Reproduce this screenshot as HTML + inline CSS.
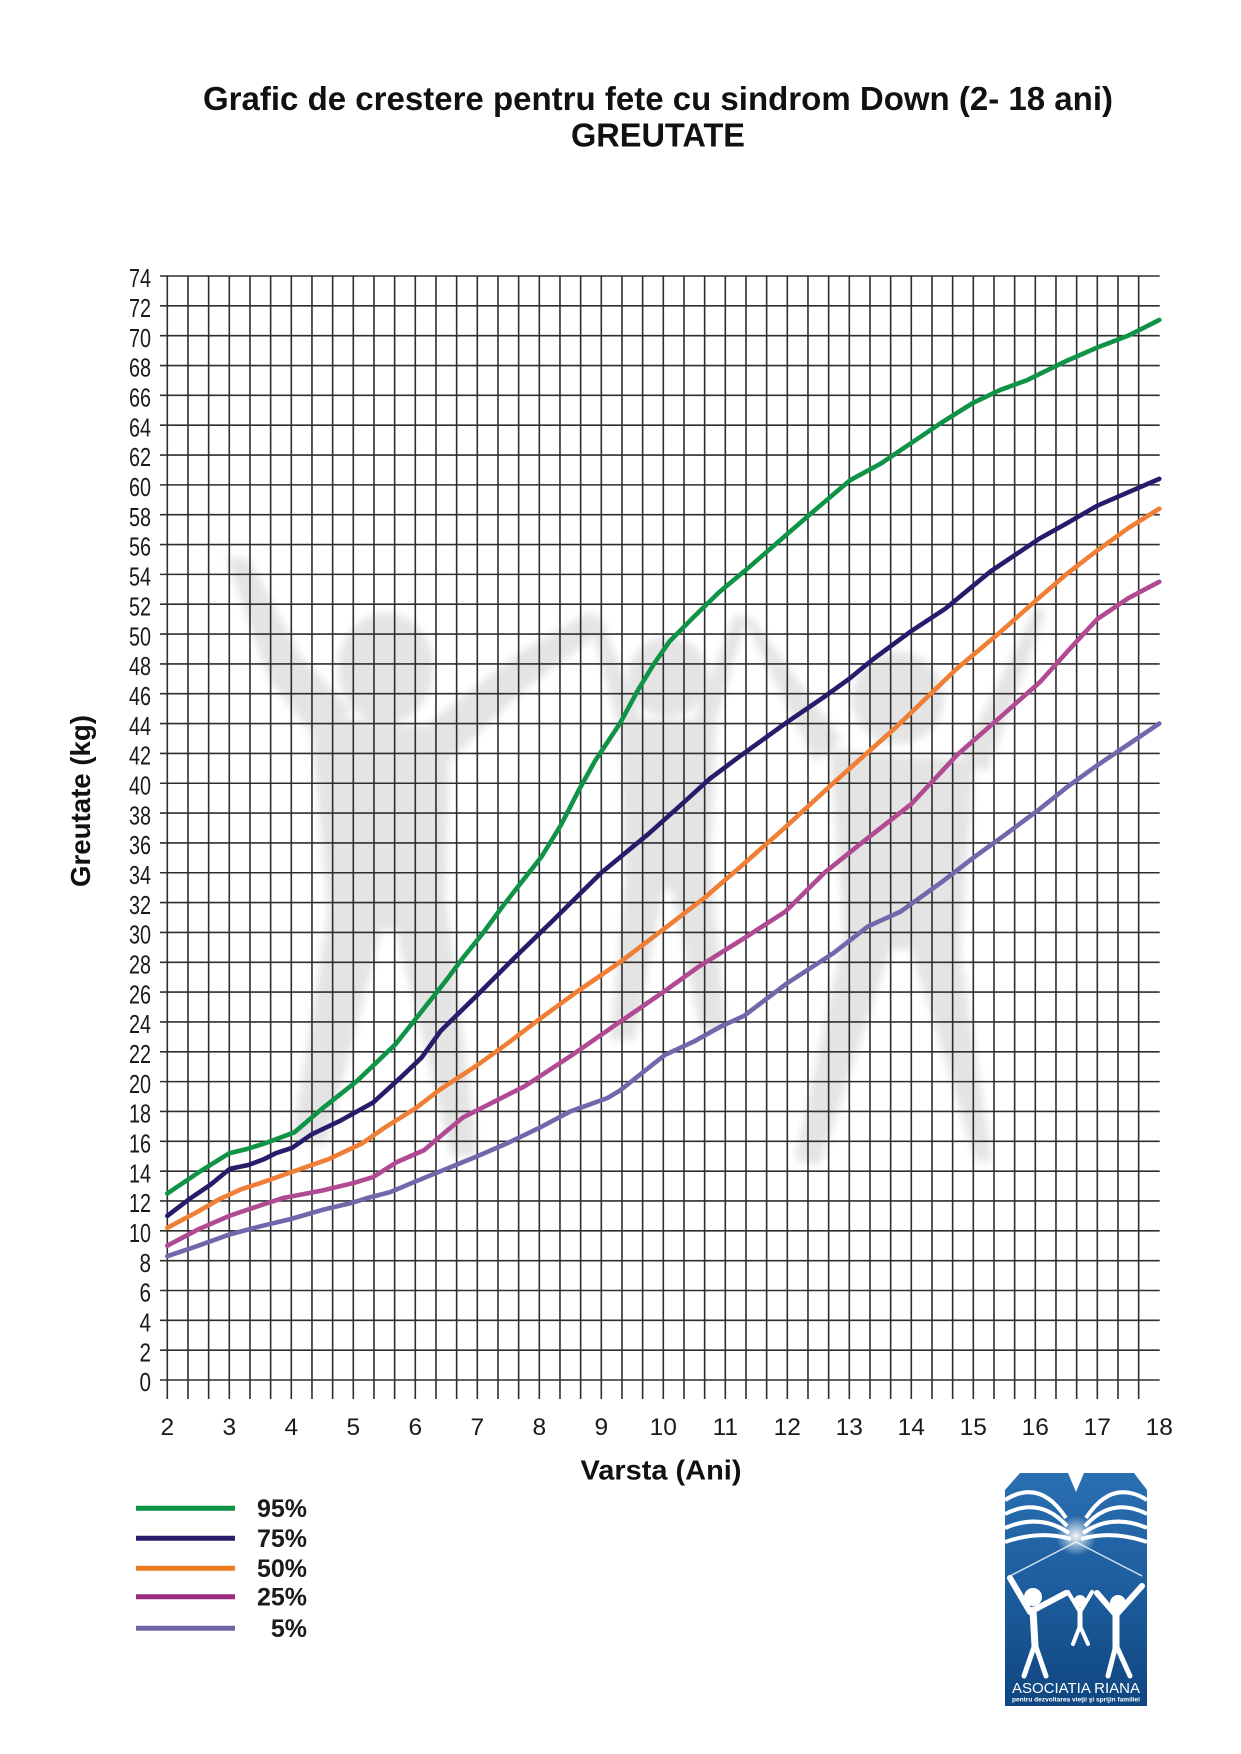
<!DOCTYPE html>
<html><head><meta charset="utf-8">
<style>
html,body{margin:0;padding:0;background:#fff;}
svg{display:block;}
</style></head>
<body>
<svg width="1241" height="1754" viewBox="0 0 1241 1754" xmlns="http://www.w3.org/2000/svg" font-family="'Liberation Sans', Arial, sans-serif">
<defs>
<filter id="bl" x="-20%" y="-20%" width="140%" height="140%"><feGaussianBlur stdDeviation="4"/></filter>
<linearGradient id="lg" x1="0" y1="0" x2="0" y2="1">
<stop offset="0" stop-color="#2a6fb2"/>
<stop offset="0.5" stop-color="#1d5d9d"/>
<stop offset="1" stop-color="#0f4680"/>
</linearGradient>
<radialGradient id="glow" cx="0.5" cy="0.5" r="0.5">
<stop offset="0" stop-color="#ffffff" stop-opacity="0.95"/>
<stop offset="1" stop-color="#ffffff" stop-opacity="0"/>
</radialGradient>
</defs>
<rect width="1241" height="1754" fill="#fff"/>

<!-- Title -->
<text x="658" y="110" font-size="33" font-weight="bold" text-anchor="middle" textLength="910" lengthAdjust="spacingAndGlyphs" fill="#111">Grafic de crestere pentru fete cu sindrom Down (2- 18 ani)</text>
<text x="658" y="146.5" font-size="33" font-weight="bold" text-anchor="middle" textLength="174" lengthAdjust="spacingAndGlyphs" fill="#111">GREUTATE</text>

<!-- Watermark -->
<g fill="#e4e4e4" filter="url(#bl)">
<ellipse cx="386" cy="668" rx="48" ry="55"/>
<polygon points="226,556 250,560 300,655 352,712 312,735 268,678"/>
<polygon points="310,715 450,728 445,930 330,930"/>
<polygon points="430,722 520,652 590,612 598,634 522,692 448,762"/>
<polygon points="330,900 388,905 326,1145 292,1140"/>
<polygon points="390,905 446,900 478,1155 452,1158"/>

<circle cx="668" cy="677" r="40"/>
<polygon points="588,614 600,616 642,720 620,732"/>
<polygon points="735,614 746,620 714,727 694,720"/>
<polygon points="620,720 716,720 710,890 625,890"/>
<polygon points="625,880 665,880 635,1040 610,1040"/>
<polygon points="670,880 712,880 726,1030 700,1030"/>

<circle cx="898" cy="698" r="46"/>
<polygon points="742,615 752,618 842,740 815,762"/>
<polygon points="1036,606 1046,612 987,772 960,760"/>
<polygon points="830,750 975,760 960,950 845,950"/>
<polygon points="845,930 897,930 820,1165 795,1160"/>
<polygon points="905,930 957,930 992,1160 976,1162"/>
</g>

<!-- Grid -->
<g stroke="#2e2e2e" stroke-width="1.6" fill="none">
<path d="M167.3 276v1123m20.667-1123v1123m20.667-1123v1123m20.667-1123v1123m20.667-1123v1123m20.667-1123v1123m20.667-1123v1123m20.667-1123v1123m20.667-1123v1123m20.667-1123v1123m20.667-1123v1123m20.667-1123v1123m20.667-1123v1123m20.667-1123v1123m20.667-1123v1123m20.667-1123v1123m20.667-1123v1123m20.667-1123v1123m20.667-1123v1123m20.667-1123v1123m20.667-1123v1123m20.667-1123v1123m20.667-1123v1123m20.667-1123v1123m20.667-1123v1123m20.667-1123v1123m20.667-1123v1123m20.667-1123v1123m20.667-1123v1123m20.667-1123v1123m20.667-1123v1123m20.667-1123v1123m20.667-1123v1123m20.667-1123v1123m20.667-1123v1123m20.667-1123v1123m20.667-1123v1123m20.667-1123v1123m20.667-1123v1123m20.667-1123v1123m20.667-1123v1123m20.667-1123v1123m20.667-1123v1123m20.667-1123v1123m20.667-1123v1123m20.667-1123v1123m20.667-1123v1123m20.667-1123v1123"/>
<path d="M160 276h999.7m-999.7 29.838h999.7m-999.7 29.838h999.7m-999.7 29.838h999.7m-999.7 29.838h999.7m-999.7 29.838h999.7m-999.7 29.838h999.7m-999.7 29.838h999.7m-999.7 29.838h999.7m-999.7 29.838h999.7m-999.7 29.838h999.7m-999.7 29.838h999.7m-999.7 29.838h999.7m-999.7 29.838h999.7m-999.7 29.838h999.7m-999.7 29.838h999.7m-999.7 29.838h999.7m-999.7 29.838h999.7m-999.7 29.838h999.7m-999.7 29.838h999.7m-999.7 29.838h999.7m-999.7 29.838h999.7m-999.7 29.838h999.7m-999.7 29.838h999.7m-999.7 29.838h999.7m-999.7 29.838h999.7m-999.7 29.838h999.7m-999.7 29.838h999.7m-999.7 29.838h999.7m-999.7 29.838h999.7m-999.7 29.838h999.7m-999.7 29.838h999.7m-999.7 29.838h999.7m-999.7 29.838h999.7m-999.7 29.838h999.7m-999.7 29.838h999.7m-999.7 29.838h999.7m-999.7 29.838h999.7"/>
</g>

<!-- Y labels -->
<g font-size="26" fill="#1a1a1a" text-anchor="end">
<text x="151" y="287.2" textLength="22" lengthAdjust="spacingAndGlyphs">74</text>
<text x="151" y="317.0" textLength="22" lengthAdjust="spacingAndGlyphs">72</text>
<text x="151" y="346.9" textLength="22" lengthAdjust="spacingAndGlyphs">70</text>
<text x="151" y="376.7" textLength="22" lengthAdjust="spacingAndGlyphs">68</text>
<text x="151" y="406.6" textLength="22" lengthAdjust="spacingAndGlyphs">66</text>
<text x="151" y="436.4" textLength="22" lengthAdjust="spacingAndGlyphs">64</text>
<text x="151" y="466.2" textLength="22" lengthAdjust="spacingAndGlyphs">62</text>
<text x="151" y="496.1" textLength="22" lengthAdjust="spacingAndGlyphs">60</text>
<text x="151" y="525.9" textLength="22" lengthAdjust="spacingAndGlyphs">58</text>
<text x="151" y="555.7" textLength="22" lengthAdjust="spacingAndGlyphs">56</text>
<text x="151" y="585.6" textLength="22" lengthAdjust="spacingAndGlyphs">54</text>
<text x="151" y="615.4" textLength="22" lengthAdjust="spacingAndGlyphs">52</text>
<text x="151" y="645.3" textLength="22" lengthAdjust="spacingAndGlyphs">50</text>
<text x="151" y="675.1" textLength="22" lengthAdjust="spacingAndGlyphs">48</text>
<text x="151" y="704.9" textLength="22" lengthAdjust="spacingAndGlyphs">46</text>
<text x="151" y="734.8" textLength="22" lengthAdjust="spacingAndGlyphs">44</text>
<text x="151" y="764.6" textLength="22" lengthAdjust="spacingAndGlyphs">42</text>
<text x="151" y="794.4" textLength="22" lengthAdjust="spacingAndGlyphs">40</text>
<text x="151" y="824.3" textLength="22" lengthAdjust="spacingAndGlyphs">38</text>
<text x="151" y="854.1" textLength="22" lengthAdjust="spacingAndGlyphs">36</text>
<text x="151" y="884.0" textLength="22" lengthAdjust="spacingAndGlyphs">34</text>
<text x="151" y="913.8" textLength="22" lengthAdjust="spacingAndGlyphs">32</text>
<text x="151" y="943.6" textLength="22" lengthAdjust="spacingAndGlyphs">30</text>
<text x="151" y="973.5" textLength="22" lengthAdjust="spacingAndGlyphs">28</text>
<text x="151" y="1003.3" textLength="22" lengthAdjust="spacingAndGlyphs">26</text>
<text x="151" y="1033.1" textLength="22" lengthAdjust="spacingAndGlyphs">24</text>
<text x="151" y="1063.0" textLength="22" lengthAdjust="spacingAndGlyphs">22</text>
<text x="151" y="1092.8" textLength="22" lengthAdjust="spacingAndGlyphs">20</text>
<text x="151" y="1122.7" textLength="22" lengthAdjust="spacingAndGlyphs">18</text>
<text x="151" y="1152.5" textLength="22" lengthAdjust="spacingAndGlyphs">16</text>
<text x="151" y="1182.3" textLength="22" lengthAdjust="spacingAndGlyphs">14</text>
<text x="151" y="1212.2" textLength="22" lengthAdjust="spacingAndGlyphs">12</text>
<text x="151" y="1242.0" textLength="22" lengthAdjust="spacingAndGlyphs">10</text>
<text x="151" y="1271.9" textLength="11.5" lengthAdjust="spacingAndGlyphs">8</text>
<text x="151" y="1301.7" textLength="11.5" lengthAdjust="spacingAndGlyphs">6</text>
<text x="151" y="1331.5" textLength="11.5" lengthAdjust="spacingAndGlyphs">4</text>
<text x="151" y="1361.4" textLength="11.5" lengthAdjust="spacingAndGlyphs">2</text>
<text x="151" y="1391.2" textLength="11.5" lengthAdjust="spacingAndGlyphs">0</text>
</g>

<!-- X labels -->
<g font-size="24.5" fill="#1a1a1a" text-anchor="middle">
<text x="167.3" y="1435">2</text>
<text x="229.3" y="1435">3</text>
<text x="291.3" y="1435">4</text>
<text x="353.3" y="1435">5</text>
<text x="415.3" y="1435">6</text>
<text x="477.3" y="1435">7</text>
<text x="539.3" y="1435">8</text>
<text x="601.3" y="1435">9</text>
<text x="663.3" y="1435">10</text>
<text x="725.3" y="1435">11</text>
<text x="787.3" y="1435">12</text>
<text x="849.3" y="1435">13</text>
<text x="911.3" y="1435">14</text>
<text x="973.3" y="1435">15</text>
<text x="1035.3" y="1435">16</text>
<text x="1097.3" y="1435">17</text>
<text x="1159.3" y="1435">18</text>
</g>

<!-- Axis titles -->
<text x="661" y="1479.5" font-size="28" font-weight="bold" text-anchor="middle" textLength="161" lengthAdjust="spacingAndGlyphs" fill="#111">Varsta (Ani)</text>
<text transform="translate(90,801) rotate(-90)" x="0" y="0" font-size="28" font-weight="bold" text-anchor="middle" textLength="172" lengthAdjust="spacingAndGlyphs" fill="#111">Greutate (kg)</text>

<!-- Curves -->
<g transform="matrix(62 0 0 -14.92 43.3 1380)" fill="none" stroke-width="4.6" stroke-linejoin="round" stroke-linecap="round">
<polyline vector-effect="non-scaling-stroke" stroke="#7068aa" points="2,8.3 2.5,9.0 3,9.75 3.5,10.3 4,10.8 4.5,11.4 5,11.9 5.23,12.2 5.6,12.6 6,13.3 6.59,14.3 7,15.0 7.5,15.9 8,16.9 8.5,18.0 9.1,18.9 9.3,19.4 10.03,21.8 10.5,22.7 10.93,23.7 11.3,24.4 12,26.6 12.74,28.6 13.3,30.4 13.83,31.4 14.5,33.4 15,35.0 15.5,36.5 16.08,38.3 16.5,39.7 17,41.2 17.5,42.6 18,44.0"/>
<polyline vector-effect="non-scaling-stroke" stroke="#b04a92" points="2,9.0 2.5,10.1 3,11.0 3.5,11.7 3.87,12.2 4.5,12.7 5,13.2 5.32,13.6 5.7,14.6 6.14,15.4 6.45,16.5 6.77,17.6 7.2,18.5 7.77,19.7 8.5,21.7 9.3,24.0 10,26.0 10.57,27.7 11.3,29.6 11.97,31.4 12.6,34.0 13.29,36.3 14,38.6 14.74,41.9 15.4,44.3 16.08,46.8 16.6,49.2 17,51.0 17.5,52.4 18,53.5"/>
<polyline vector-effect="non-scaling-stroke" stroke="#ef7f35" points="2,10.2 2.5,11.3 2.83,12.1 3.2,12.8 3.5,13.2 4.05,14.0 4.6,14.8 5.14,15.85 5.5,16.9 6,18.2 6.41,19.5 7,21.1 7.5,22.6 8.04,24.3 8.6,26.0 9.3,28.0 10,30.2 10.66,32.3 11.3,34.6 11.93,36.9 12.74,40.0 13.74,43.7 14.74,47.7 15.4,50.0 16.08,52.5 16.5,54.0 17,55.6 17.5,57.1 18,58.4"/>
<polyline vector-effect="non-scaling-stroke" stroke="#251d6b" points="2,11.0 2.38,12.2 2.7,13.1 3.01,14.16 3.3,14.4 3.56,14.8 3.75,15.2 4.01,15.55 4.33,16.47 4.8,17.4 5.32,18.6 5.77,20.3 6.1,21.6 6.41,23.4 7,25.8 7.6,28.3 8.22,30.8 9,34.0 9.76,36.6 10.3,38.6 10.75,40.3 11.2,41.7 12,44.1 12.6,45.8 13,47.0 13.38,48.3 14,50.2 14.55,51.7 15.28,54.2 16.07,56.4 16.5,57.4 17,58.6 17.5,59.5 18,60.4"/>
<polyline vector-effect="non-scaling-stroke" stroke="#0f9447" points="2,12.5 2.5,13.9 3,15.2 3.3,15.5 3.6,15.9 4.05,16.6 4.5,18.2 5.05,20.0 5.68,22.5 6.14,24.9 6.5,26.8 6.77,28.3 7.1,30.0 7.4,31.7 7.7,33.3 8.04,35.1 8.35,37.2 8.62,39.4 8.9,41.5 9.3,44.0 9.6,46.3 9.85,48.0 10.1,49.5 10.48,51.1 10.9,52.8 11.39,54.5 12,56.7 12.5,58.5 13.01,60.3 13.5,61.4 14,62.8 14.5,64.2 15,65.5 15.43,66.35 15.86,67.0 16.5,68.3 17,69.2 17.5,70.0 18,71.05"/>
</g>

<!-- Legend -->
<g stroke-width="5">
<line x1="136" y1="1508.3" x2="235" y2="1508.3" stroke="#0b9247"/>
<line x1="136" y1="1538.3" x2="235" y2="1538.3" stroke="#2a1f6e"/>
<line x1="136" y1="1568.3" x2="235" y2="1568.3" stroke="#ea7a20"/>
<line x1="136" y1="1596.7" x2="235" y2="1596.7" stroke="#9c2a7f"/>
<line x1="136" y1="1628.3" x2="235" y2="1628.3" stroke="#6f64a5"/>
</g>
<g font-size="25" font-weight="bold" fill="#1a1a1a" text-anchor="end">
<text x="307" y="1517">95%</text>
<text x="307" y="1547">75%</text>
<text x="307" y="1577">50%</text>
<text x="307" y="1605.5">25%</text>
<text x="307" y="1637">5%</text>
</g>

<!-- Logo -->
<g>
<path d="M1005 1490 L1020 1473 L1068 1473 L1076 1492 L1084 1473 L1134 1473 L1147 1490 V1706 H1005 Z" fill="url(#lg)"/>
<g stroke="#fff" stroke-width="4" fill="none">
<path d="M1005 1500 Q1040 1478 1066 1518"/>
<path d="M1005 1514 Q1040 1496 1067 1526"/>
<path d="M1005 1528 Q1040 1513 1069 1533"/>
<path d="M1005 1542 Q1040 1530 1071 1539"/>
<path d="M1147 1500 Q1112 1478 1086 1518"/>
<path d="M1147 1514 Q1112 1496 1085 1526"/>
<path d="M1147 1528 Q1112 1513 1083 1533"/>
<path d="M1147 1542 Q1112 1530 1081 1539"/>
</g>
<circle cx="1076" cy="1536" r="20" fill="url(#glow)"/>
<g stroke="#fff" stroke-width="1.5" opacity="0.8">
<line x1="1076" y1="1542" x2="1010" y2="1576"/>
<line x1="1076" y1="1542" x2="1142" y2="1576"/>
</g>
<g fill="#fff">
<circle cx="1033" cy="1597" r="9"/>
<circle cx="1080" cy="1601" r="6"/>
<circle cx="1118" cy="1603" r="8"/>
</g>
<g stroke="#fff" fill="none" stroke-linecap="round" stroke-linejoin="round">
<path stroke-width="6" d="M1010 1578 L1030 1612 L1066 1593"/>
<path stroke-width="7" d="M1033 1610 L1035 1646"/>
<path stroke-width="5" d="M1035 1644 L1024 1676 M1035 1644 L1046 1676"/>
<path stroke-width="4" d="M1068 1592 L1080 1612 L1092 1592"/>
<path stroke-width="5" d="M1080 1610 V1628"/>
<path stroke-width="4" d="M1080 1626 L1073 1644 M1080 1626 L1088 1644"/>
<path stroke-width="6" d="M1097 1593 L1116 1615 L1142 1586"/>
<path stroke-width="7" d="M1116 1612 V1648"/>
<path stroke-width="5" d="M1116 1645 L1108 1676 M1116 1645 L1130 1676"/>
</g>
<text x="1076" y="1693" font-size="15" fill="#fff" text-anchor="middle" textLength="128" lengthAdjust="spacingAndGlyphs">ASOCIATIA RIANA</text>
<text x="1076" y="1701.5" font-size="6" font-weight="bold" fill="#fff" text-anchor="middle" textLength="128" lengthAdjust="spacingAndGlyphs">pentru dezvoltarea vieţii şi sprijin familiei</text>
</g>
</svg>
</body></html>
